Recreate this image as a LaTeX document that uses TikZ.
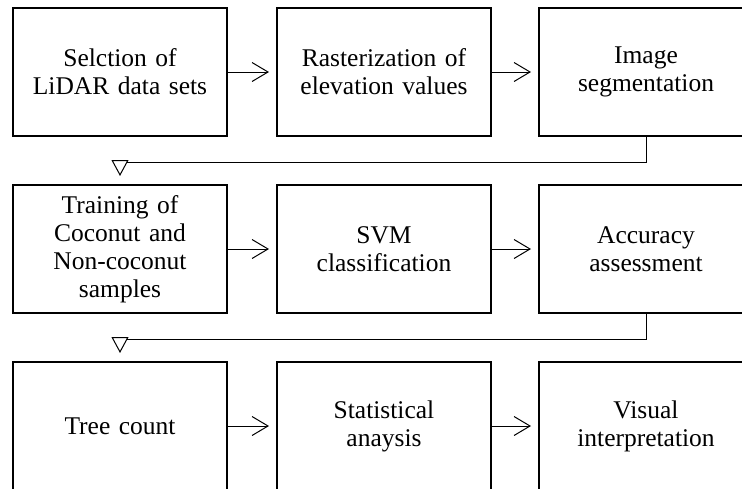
\documentclass[tikz,border=0pt]{standalone}
\usepackage{fontspec}
\setmainfont{Liberation Serif}
\usetikzlibrary{arrows.meta}
\begin{document}
\begin{tikzpicture}[x=1pt,y=-1pt,
  stepbox/.style={draw, line width=2pt, minimum width=214pt, minimum height=128pt,
    inner sep=0pt, text width=206pt, align=center,
    font=\fontsize{25.5}{28}\selectfont},
  rarr/.style={line width=1pt, -{Straight Barb[length=16pt,width=19pt]}, shorten >=7pt},
  darr/.style={line width=1pt, -{Triangle[open,length=16pt,width=17pt,fill=white]}, shorten >=8pt}]
\useasboundingbox (0,0) rectangle (742,488);
\node[stepbox] (b1) at (120,72) {Selction of\\LiDAR data sets};
\node[stepbox] (b2) at (384,72) {Rasterization of\\elevation values};
\node[stepbox] (b3) at (646,72) {Image\\segmentation};
\node[stepbox] (b4) at (120,249) {Training of\\Coconut and\\Non-coconut\\samples};
\node[stepbox] (b5) at (384,249) {SVM\\classification};
\node[stepbox] (b6) at (646,249) {Accuracy\\assessment};
\node[stepbox] (b7) at (120,426) {Tree count};
\node[stepbox] (b8) at (384,426) {Statistical\\anaysis};
\node[stepbox] (b9) at (646,426) {Visual\\interpretation};
\draw[rarr] (b1) -- (b2);
\draw[rarr] (b2) -- (b3);
\draw[rarr] (b4) -- (b5);
\draw[rarr] (b5) -- (b6);
\draw[rarr] (b7) -- (b8);
\draw[rarr] (b8) -- (b9);
\draw[darr] (b3.south) -- ++(0,25) -| (b4.north);
\draw[darr] (b6.south) -- ++(0,25) -| (b7.north);
\end{tikzpicture}
\end{document}
